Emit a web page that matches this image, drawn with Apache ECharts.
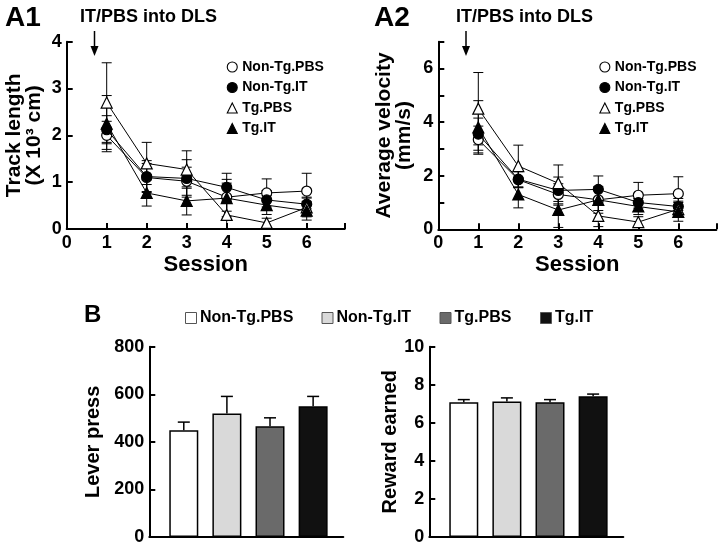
<!DOCTYPE html>
<html><head><meta charset="utf-8">
<script src="https://cdn.jsdelivr.net/npm/echarts@6/dist/echarts.min.js"></script>
<style>html,body{margin:0;padding:0;background:#fff}#c{width:720px;height:546px}</style>
</head><body><div id="c"></div>
<script>
// ---------- data ----------
const sessions = [1, 2, 3, 4, 5, 6];
const groupNames = ['Non-Tg.PBS', 'Non-Tg.IT', 'Tg.PBS', 'Tg.IT'];

// A1: track length (x 10^3 cm)
const trackNonTgPBS    = [2.00, 1.10, 1.02, 0.68, 0.77, 0.81];
const trackNonTgPBSErr = [0.30, 0.30, 0.30, 0.30, 0.30, 0.38];
const trackNonTgIT     = [2.12, 1.12, 1.08, 0.89, 0.62, 0.53];
const trackNonTgITErr  = [0.30, 0.34, 0.40, 0.30, 0.20, 0.15];
const trackTgPBS       = [2.70, 1.40, 1.27, 0.30, 0.13, 0.46];
const trackTgPBSErr    = [0.85, 0.45, 0.40, 0.30, 0.10, 0.20];
const trackTgIT        = [2.25, 0.77, 0.60, 0.66, 0.51, 0.39];
const trackTgITErr     = [0.60, 0.28, 0.30, 0.40, 0.20, 0.20];

// A2: average velocity (mm/s)
const velNonTgPBS    = [3.35, 1.85, 1.30, 1.10, 1.27, 1.33];
const velNonTgPBSErr = [0.50, 0.30, 0.40, 0.40, 0.48, 0.63];
const velNonTgIT     = [3.55, 1.87, 1.45, 1.49, 1.00, 0.85];
const velNonTgITErr  = [0.60, 0.30, 0.50, 0.50, 0.30, 0.30];
const velTgPBS       = [4.50, 2.36, 1.72, 0.50, 0.27, 0.75];
const velTgPBSErr    = [1.35, 0.78, 0.68, 0.40, 0.20, 0.30];
const velTgIT        = [3.80, 1.30, 0.72, 1.10, 0.85, 0.65];
const velTgITErr     = [1.00, 0.50, 0.65, 0.50, 0.30, 0.35];

// B: lever press and reward earned
const barPositions = [1, 2, 3, 4];
const leverPress    = [449, 519, 466, 550];
const leverPressErr = [34, 72, 35, 41];
const reward        = [7.08, 7.12, 7.08, 7.39];
const rewardErr     = [0.14, 0.19, 0.14, 0.12];

// tick labels
const a1YTicks = [0, 1, 2, 3, 4];
const a2YLabelled = [0, 2, 4, 6];
const sessionLabels = [0, 1, 2, 3, 4, 5, 6];

// ---------- styles ----------
const FONT = '"Liberation Sans", Arial, Helvetica, sans-serif';
const markStyles = [
  { symbol: 'circle', fill: '#ffffff', size: 10 },
  { symbol: 'circle', fill: '#000000', size: 10 },
  { symbol: 'triangle', fill: '#ffffff', size: 11 },
  { symbol: 'triangle', fill: '#000000', size: 11 }
];
const barColors = ['#ffffff', '#d9d9d9', '#6a6a6a', '#111111'];

const chart = echarts.init(document.getElementById('c'), null, { renderer: 'canvas' });

function lineSeries(name, vals, idx, axisIdx) {
  const st = markStyles[idx];
  return {
    type: 'line', name: name, xAxisIndex: axisIdx, yAxisIndex: axisIdx,
    data: sessions.map((s, i) => [s, vals[i]]),
    symbol: st.symbol, symbolSize: st.size, showAllSymbol: true,
    itemStyle: { color: st.fill, borderColor: '#000', borderWidth: 1.2 },
    lineStyle: { color: '#000', width: 1 },
    emphasis: { disabled: true },
    z: 3 + idx, animation: false
  };
}
function errSeries(vals, errs, axisIdx, bothSides) {
  return {
    type: 'custom', xAxisIndex: axisIdx, yAxisIndex: axisIdx, silent: true, z: 2,
    data: vals.map((v, i) => [ (axisIdx < 2 ? sessions[i] : barPositions[i]), bothSides ? v - errs[i] : v, v + errs[i] ]),
    renderItem: function (params, api) {
      const x = api.value(0);
      const lo = api.coord([x, api.value(1)]);
      const hi = api.coord([x, api.value(2)]);
      const hw = bothSides ? 5 : 6;
      const kids = [
        { type: 'line', shape: { x1: lo[0], y1: lo[1], x2: hi[0], y2: hi[1] }, style: { stroke: '#000', lineWidth: bothSides ? 1 : 1.5 } },
        { type: 'line', shape: { x1: hi[0] - hw, y1: hi[1], x2: hi[0] + hw, y2: hi[1] }, style: { stroke: '#000', lineWidth: bothSides ? 1 : 1.5 } }
      ];
      if (bothSides) kids.push({ type: 'line', shape: { x1: lo[0] - hw, y1: lo[1], x2: lo[0] + hw, y2: lo[1] }, style: { stroke: '#000', lineWidth: 1 } });
      return { type: 'group', children: kids };
    },
    animation: false
  };
}

const axisLine = { show: true, lineStyle: { color: '#000', width: 2 } };
const axisTick = { show: true, inside: true, length: 6, lineStyle: { color: '#000', width: 2 } };
const tickLabel = { color: '#000', fontFamily: FONT, fontWeight: 'bold', fontSize: 18 };
const nameStyle = { color: '#000', fontFamily: FONT, fontWeight: 'bold', fontSize: 21, lineHeight: 20 };

function sessionAxis(gi) {
  return {
    type: 'value', gridIndex: gi, min: 0, max: 6.95, interval: 1,
    axisLine: axisLine, axisTick: axisTick, splitLine: { show: false },
    axisLabel: Object.assign({ margin: 5, formatter: v => (sessionLabels.indexOf(v) >= 0 ? String(v) : '') }, tickLabel),
    name: 'Session', nameLocation: 'middle', nameGap: 26,
    nameTextStyle: Object.assign({}, nameStyle, { fontSize: 22 })
  };
}

const trackVals = [trackNonTgPBS, trackNonTgIT, trackTgPBS, trackTgIT];
const trackErrs = [trackNonTgPBSErr, trackNonTgITErr, trackTgPBSErr, trackTgITErr];
const velVals = [velNonTgPBS, velNonTgIT, velTgPBS, velTgIT];
const velErrs = [velNonTgPBSErr, velNonTgITErr, velTgPBSErr, velTgITErr];

const series = [];
groupNames.forEach((n, i) => series.push(errSeries(trackVals[i], trackErrs[i], 0, true)));
groupNames.forEach((n, i) => series.push(lineSeries(n, trackVals[i], i, 0)));
groupNames.forEach((n, i) => series.push(errSeries(velVals[i], velErrs[i], 1, true)));
groupNames.forEach((n, i) => series.push(lineSeries(n, velVals[i], i, 1)));

function barSeries(vals, axisIdx) {
  return {
    type: 'bar', xAxisIndex: axisIdx, yAxisIndex: axisIdx, barWidth: 29,
    data: vals.map((v, i) => ({ value: [barPositions[i], v], itemStyle: { color: barColors[i] } })),
    itemStyle: { borderColor: '#000', borderWidth: 1.5 },
    emphasis: { disabled: true }, z: 2, animation: false
  };
}
series.push(barSeries(leverPress, 2));
series.push(errSeries(leverPress, leverPressErr, 2, false));
series.push(barSeries(reward, 3));
series.push(errSeries(reward, rewardErr, 3, false));

function barXAxis(gi) {
  return { type: 'value', gridIndex: gi, min: 0.2, max: 4.7, axisLine: axisLine, axisTick: { show: false }, axisLabel: { show: false }, splitLine: { show: false } };
}

const legendText = { color: '#000', fontFamily: FONT, fontWeight: 'bold', fontSize: 14 };
function aLegend(left) {
  return {
    orient: 'vertical', left: left, top: 55, itemWidth: 10, itemHeight: 10, itemGap: 6.5,
    selectedMode: false,
    itemStyle: { borderWidth: 1.1, borderColor: '#000' },
    data: groupNames.map((n, i) => ({ name: n, icon: markStyles[i].symbol })),
    textStyle: legendText
  };
}

// graphic annotations
const bold = (sz) => ({ fontFamily: FONT, fontWeight: 'bold', fontSize: sz, fill: '#000' });
function arrow(x) {
  return { type: 'group', children: [
    { type: 'line', shape: { x1: x, y1: 31, x2: x, y2: 49 }, style: { stroke: '#000', lineWidth: 1.5 } },
    { type: 'polygon', shape: { points: [[x - 4, 46], [x + 4, 46], [x, 56]] }, style: { fill: '#000' } }
  ]};
}
const bLegend = [
  { x: 185.5, label: 'Non-Tg.PBS' },
  { x: 322, label: 'Non-Tg.IT' },
  { x: 440, label: 'Tg.PBS' },
  { x: 540.5, label: 'Tg.IT' }
];
const graphics = [
  { type: 'text', left: 5, top: 4, style: Object.assign({ text: 'A1' }, bold(28)) },
  { type: 'text', left: 374, top: 4, style: Object.assign({ text: 'A2' }, bold(28)) },
  { type: 'text', left: 84, top: 303, style: Object.assign({ text: 'B' }, bold(24)) },
  { type: 'text', left: 80, top: 8, style: Object.assign({ text: 'IT/PBS into DLS' }, bold(18)) },
  { type: 'text', left: 456, top: 8, style: Object.assign({ text: 'IT/PBS into DLS' }, bold(18)) },
  arrow(94.5), arrow(466)
];
bLegend.forEach((b, i) => {
  graphics.push({ type: 'rect', shape: { x: b.x, y: 312.5, width: 11, height: 11 }, style: { fill: barColors[i], stroke: '#555', lineWidth: 1 } });
  graphics.push({ type: 'text', left: b.x + 14.5, top: 310, style: Object.assign({ text: groupNames[i] }, bold(16)) });
});

chart.setOption({
  animation: false,
  backgroundColor: '#fff',
  grid: [
    { left: 66.7, top: 41.7, width: 278, height: 187.3 },
    { left: 438.3, top: 41.7, width: 278, height: 187.6 },
    { left: 149.3, top: 346.7, width: 194, height: 191.6 },
    { left: 429.3, top: 346.7, width: 194, height: 191.6 }
  ],
  xAxis: [sessionAxis(0), sessionAxis(1), barXAxis(2), barXAxis(3)],
  yAxis: [
    { type: 'value', gridIndex: 0, min: 0, max: 4, interval: 1, axisLine: axisLine, axisTick: axisTick, splitLine: { show: false },
      axisLabel: Object.assign({ margin: 5, formatter: v => (a1YTicks.indexOf(v) >= 0 ? String(v) : '') }, tickLabel),
      name: 'Track length\n(X 10³ cm)', nameLocation: 'middle', nameRotate: 90, nameGap: 22, nameTextStyle: nameStyle },
    { type: 'value', gridIndex: 1, min: 0, max: 7, interval: 1, axisLine: axisLine, axisTick: axisTick, splitLine: { show: false },
      axisLabel: Object.assign({ margin: 5, formatter: v => (a2YLabelled.indexOf(v) >= 0 ? String(v) : '') }, tickLabel),
      name: 'Average velocity\n(mm/s)', nameLocation: 'middle', nameRotate: 90, nameGap: 24, nameTextStyle: nameStyle },
    { type: 'value', gridIndex: 2, min: 0, max: 800, interval: 200, axisLine: axisLine, axisTick: axisTick, splitLine: { show: false },
      axisLabel: Object.assign({ margin: 5 }, tickLabel),
      name: 'Lever press', nameLocation: 'middle', nameRotate: 90, nameGap: 46, nameTextStyle: Object.assign({}, nameStyle, { fontSize: 20 }) },
    { type: 'value', gridIndex: 3, min: 0, max: 10, interval: 2, axisLine: axisLine, axisTick: axisTick, splitLine: { show: false },
      axisLabel: Object.assign({ margin: 5 }, tickLabel),
      name: 'Reward earned', nameLocation: 'middle', nameRotate: 90, nameGap: 28, nameTextStyle: Object.assign({}, nameStyle, { fontSize: 20 }) }
  ],
  legend: [aLegend(221.7), aLegend(594.3)],
  graphic: graphics,
  series: series
});
</script></body></html>
